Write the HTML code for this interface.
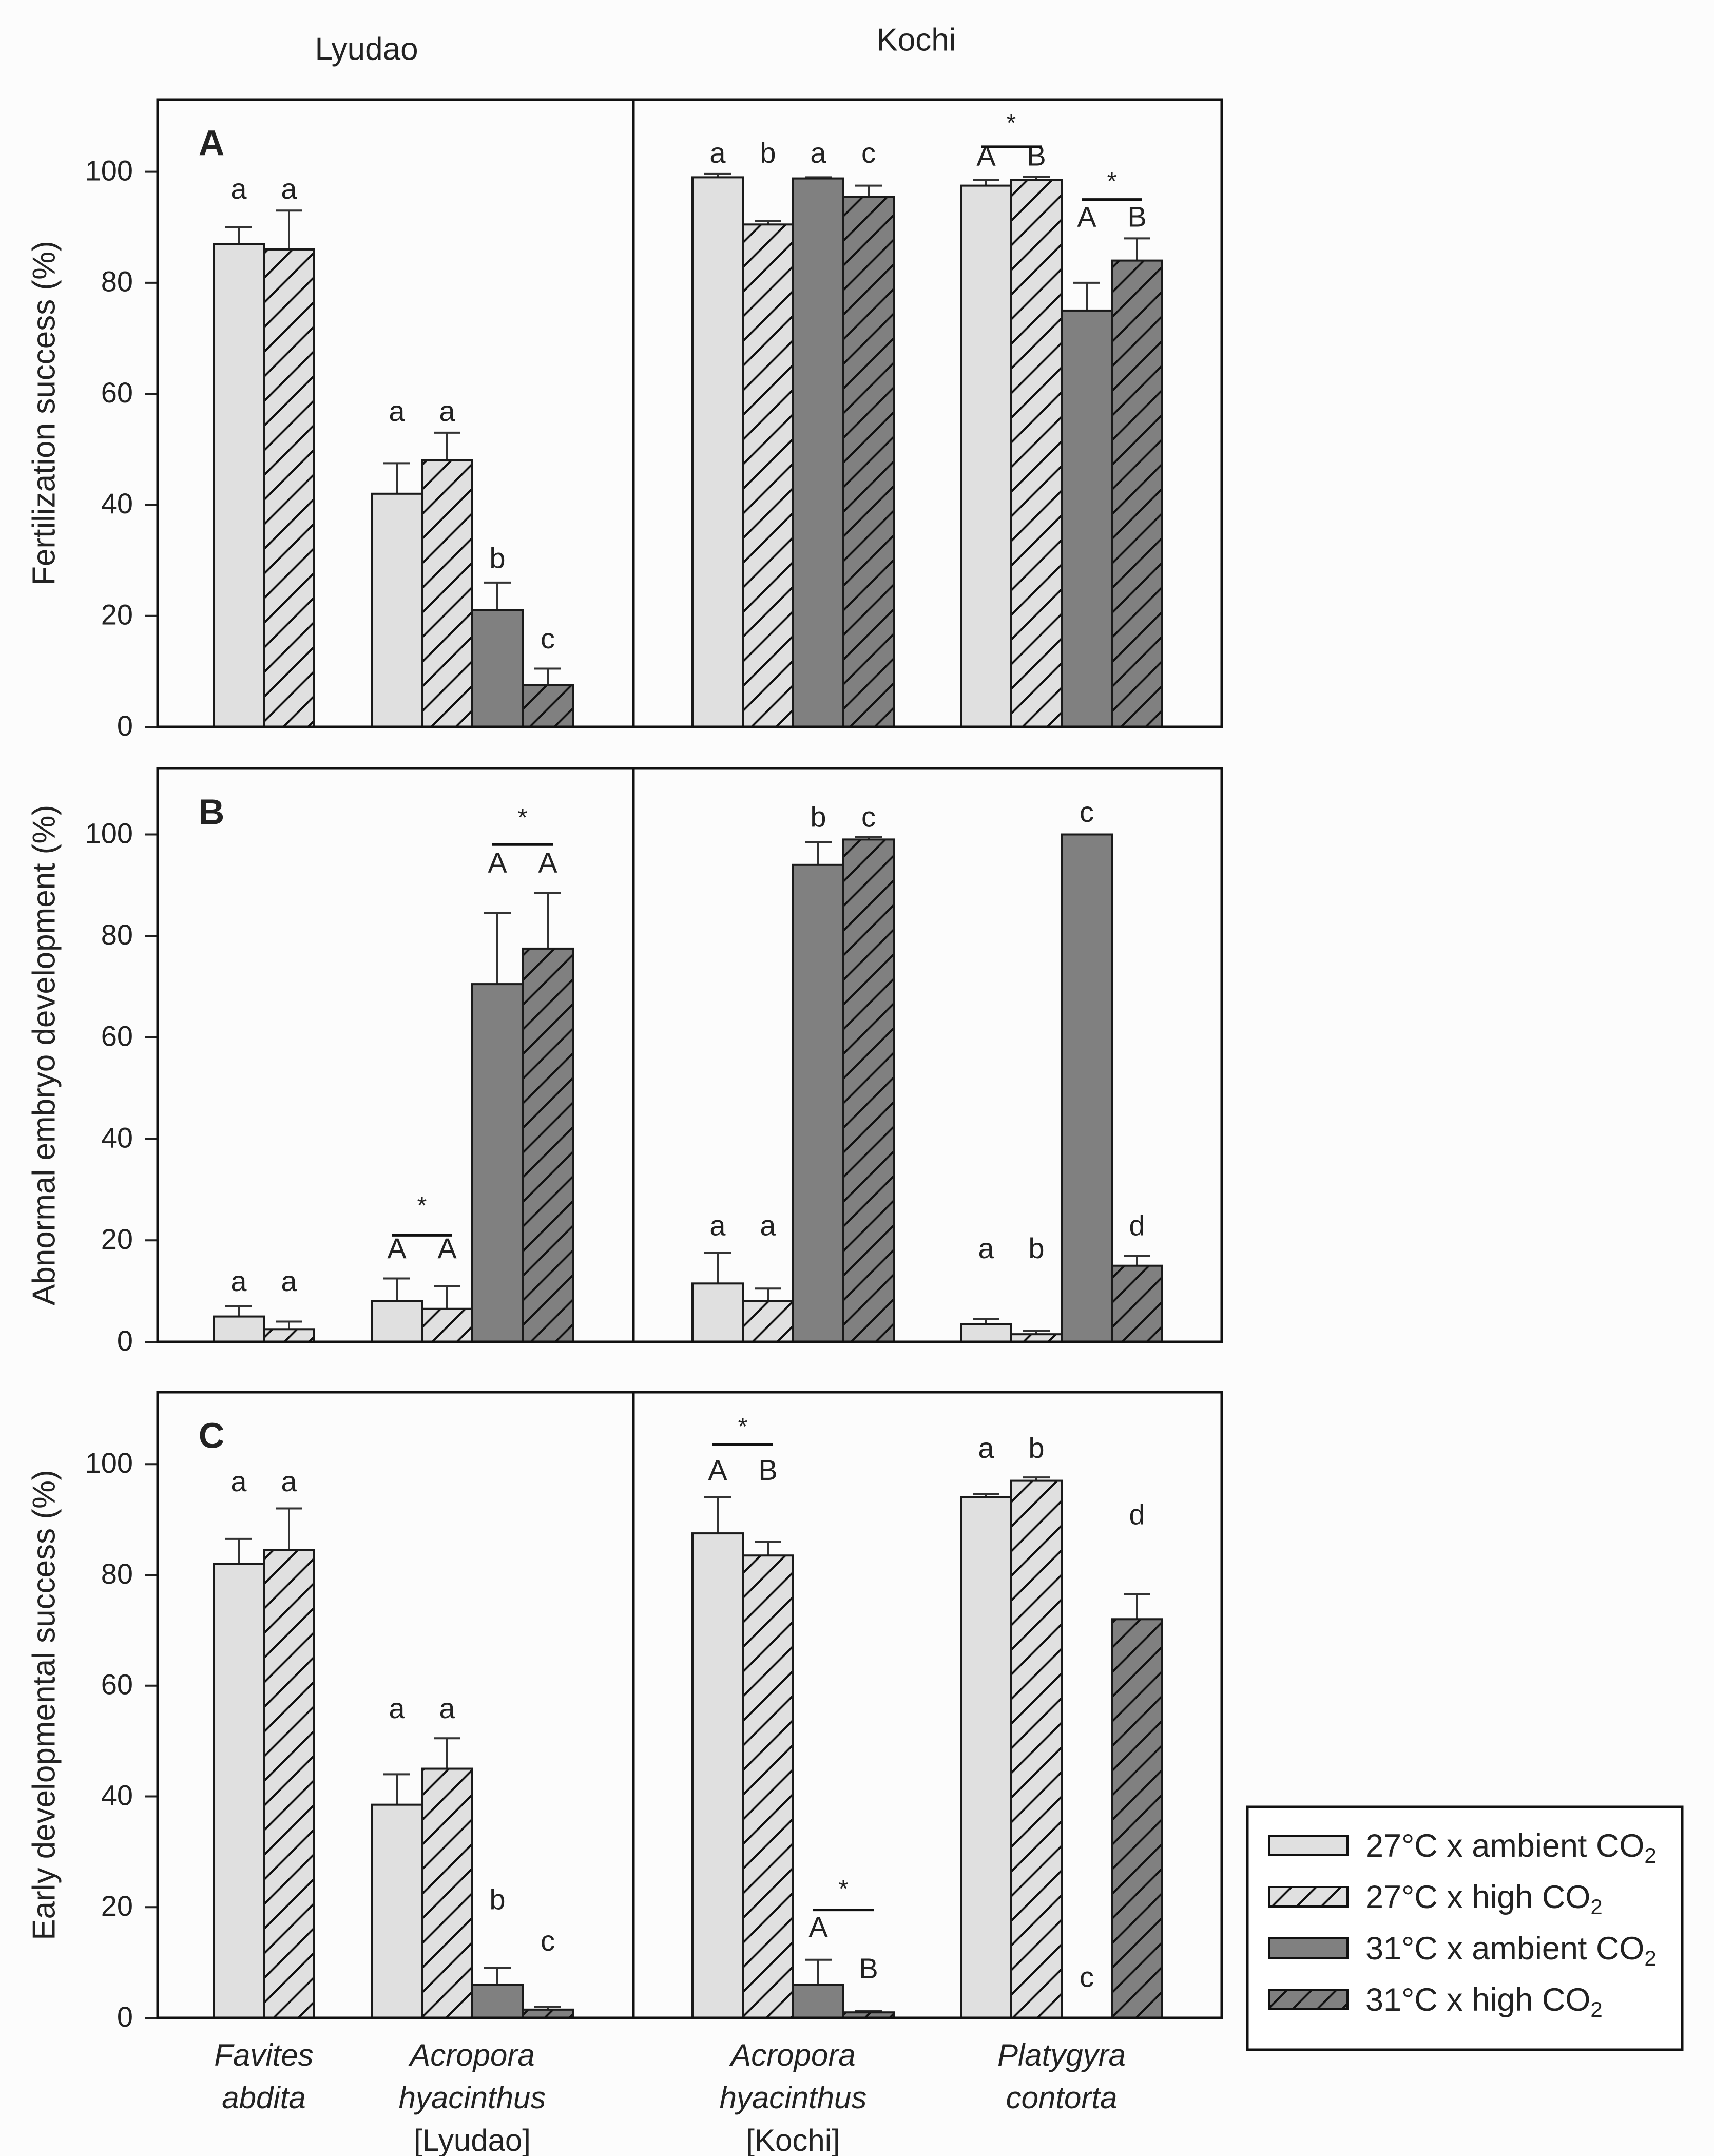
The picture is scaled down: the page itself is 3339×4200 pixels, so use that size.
<!DOCTYPE html>
<html><head><meta charset="utf-8"><style>
html,body{margin:0;padding:0;background:#fcfcfc;}
svg{display:block;}
text{font-family:"Liberation Sans",sans-serif;fill:#222;}
</style></head><body>
<svg id="chart" width="3339" height="4200" viewBox="0 0 3339 4200" xmlns="http://www.w3.org/2000/svg">
<defs>
<pattern id="hatchL" patternUnits="userSpaceOnUse" width="48" height="48">
<rect width="48" height="48" fill="#e0e0e0"/><path d="M-12,12 L12,-12 M0,48 L48,0 M36,60 L60,36" stroke="#111" stroke-width="4"/></pattern>
<pattern id="hatchD" patternUnits="userSpaceOnUse" width="48" height="48">
<rect width="48" height="48" fill="#808080"/><path d="M-12,12 L12,-12 M0,48 L48,0 M36,60 L60,36" stroke="#111" stroke-width="4"/></pattern>
</defs>
<g id="root"></g>
</svg>
<script>
const groups = ["Favites abdita","Acropora hyacinthus [Lyudao]","Acropora hyacinthus [Kochi]","Platygyra contorta"];
const seriesNames = ["27°C x ambient CO2","27°C x high CO2","31°C x ambient CO2","31°C x high CO2"];
const yTicks = [0,20,40,60,80,100];
// values [group][series]; null = no bar
const fertMean = [[87,86,null,null],[42,48,21,7.5],[99,90.5,98.8,95.5],[97.5,98.5,75,84]];
const fertErr  = [[3,7,null,null],[5.5,5,5,3],[0.6,0.6,0.2,2],[1,0.6,5,4]];
const abnMean  = [[5,2.5,null,null],[8,6.5,70.5,77.5],[11.5,8,94,99],[3.5,1.5,100,15]];
const abnErr   = [[2,1.5,null,null],[4.5,4.5,14,11],[6,2.5,4.5,0.5],[1,0.7,0,2]];
const earlyMean= [[82,84.5,null,null],[38.5,45,6,1.5],[87.5,83.5,6,1],[94,97,0,72]];
const earlyErr = [[4.5,7.5,null,null],[5.5,5.5,3,0.5],[6.5,2.5,4.5,0.3],[0.6,0.6,null,4.5]];

const NS="http://www.w3.org/2000/svg";
const root=document.getElementById('root');
function el(tag,attrs,parent){const e=document.createElementNS(NS,tag);for(const k in attrs)e.setAttribute(k,attrs[k]);(parent||root).appendChild(e);return e;}
function txt(x,y,s,size,attrs,parent){const t=el('text',Object.assign({x:x,y:y,'font-size':size,'text-anchor':'middle','dominant-baseline':'middle'},attrs||{}),parent);t.textContent=s;return t;}

const X0=307,X1=2380,XDIV=1234,BW=98;
const groupStart=[416,724,1349,1872];
const fills=["#e0e0e0","url(#hatchL)","#808080","url(#hatchD)"];
const panels=[
 {id:'A',top:194,bot:1416,mean:fertMean,err:fertErr,title:"Fertilization success (%)"},
 {id:'B',top:1497,bot:2614,mean:abnMean,err:abnErr,title:"Abnormal embryo development (%)"},
 {id:'C',top:2712,bot:3931,mean:earlyMean,err:earlyErr,title:"Early developmental success (%)"}
];
const YMAX=113;
const ann={
 A:[[0,0,'a',96.5],[0,1,'a',96.5],[1,0,'a',56.5],[1,1,'a',56.5],[1,2,'b',30],[1,3,'c',15.5],
    [2,0,'a',103],[2,1,'b',103],[2,2,'a',103],[2,3,'c',103],
    [3,0,'A',102.5],[3,1,'B',102.5],[3,0.5,'*',108.5],[3,2,'A',91.5],[3,3,'B',91.5],[3,2.5,'*',98]],
 B:[[0,0,'a',11.5],[0,1,'a',11.5],[1,0,'A',18],[1,1,'A',18],[1,0.5,'*',26.5],
    [1,2,'A',94],[1,3,'A',94],[1,2.5,'*',103],
    [2,0,'a',22.5],[2,1,'a',22.5],[2,2,'b',103],[2,3,'c',103],
    [3,0,'a',18],[3,1,'b',18],[3,2,'c',104],[3,3,'d',22.5]],
 C:[[0,0,'a',96.5],[0,1,'a',96.5],[1,0,'a',55.5],[1,1,'a',55.5],[1,2,'b',21],[1,3,'c',13.5],
    [2,0,'A',98.5],[2,1,'B',98.5],[2,0.5,'*',106.5],[2,2,'A',16],[2,3,'B',8.5],[2,2.5,'*',23],
    [3,0,'a',102.5],[3,1,'b',102.5],[3,2,'c',7],[3,3,'d',90.5]]
};
const brackets={A:[[3,0,1,104.5],[3,2,3,95]],B:[[1,0,1,21],[1,2,3,98]],C:[[2,0,1,103.5],[2,2,3,19.5]]};

panels.forEach(p=>{
  const g=el('g',{});
  
  
  const y=v=>p.bot-(v/YMAX)*(p.bot-p.top);
  const xc=(gi,si)=>groupStart[gi]+si*BW+BW/2;
  yTicks.forEach(t=>{
    const tk=el('line',{x1:X0-25,x2:X0,y1:y(t),y2:y(t),stroke:'#222','stroke-width':4},g);
    
    
    const lb=txt(X0-48,y(t)+2,String(t),56,{'text-anchor':'end'},g);
    
    
  });
  const yt=txt(0,0,p.title,62,{transform:`translate(90,${(p.top+p.bot)/2}) rotate(-90)`},g);
  
  
  p.mean.forEach((row,gi)=>row.forEach((v,si)=>{
    if(v===null)return;
    const e=p.err[gi][si];
    if(e!==null&&e>0){
      const cx=xc(gi,si);
      const eb=el('path',{d:`M${cx},${y(v)} V${y(v+e)} M${cx-26},${y(v+e)} H${cx+26}`,stroke:'#333','stroke-width':4,fill:'none'},g);
      
      
    }
    if(v>0){
      const r=el('rect',{x:groupStart[gi]+si*BW,y:y(v),width:BW,height:y(0)-y(v),fill:fills[si],stroke:'#1a1a1a','stroke-width':4},g);
      
      
    }
  }));
  ann[p.id].forEach(a=>{
    const t=txt(xc(a[0],a[1]),y(a[3]),a[2],a[2]==='*'?48:56,{},g);
    
    
  });
  brackets[p.id].forEach(b=>{
    const l=el('line',{x1:xc(b[0],b[1])-10,x2:xc(b[0],b[2])+10,y1:y(b[3]),y2:y(b[3]),stroke:'#111','stroke-width':5},g);
    
    
  });
  const fr=el('rect',{x:X0,y:p.top,width:X1-X0,height:p.bot-p.top,fill:'none',stroke:'#111','stroke-width':5},g);
  
  
  const dv=el('line',{x1:XDIV,x2:XDIV,y1:p.top,y2:p.bot,stroke:'#111','stroke-width':5},g);
  
  
  const pl=txt(412,p.top+90,p.id,70,{'font-weight':'bold'},g);
  
  
});

const s1=txt(714,100,'Lyudao',62);


const s2=txt(1785,82,'Kochi',62);



const xl=[["Favites","abdita"],["Acropora","hyacinthus","[Lyudao]"],["Acropora","hyacinthus","[Kochi]"],["Platygyra","contorta"]];
xl.forEach((lines,gi)=>{
  const cx=gi===0?groupStart[0]+BW:groupStart[gi]+2*BW;
  lines.forEach((s,i)=>{
    const t=txt(cx,4008+i*83,s,60,{'font-style':s.startsWith('[')?'normal':'italic'});
    
    
  });
});

const lg=el('g',{});


const lb=el('rect',{x:2430,y:3520,width:847,height:473,fill:'#fff',stroke:'#111','stroke-width':5},lg);


seriesNames.forEach((n,i)=>{
  const cy=3595+i*100;
  const sw=el('rect',{x:2472,y:cy-19,width:153,height:38,fill:fills[i],stroke:'#111','stroke-width':4},lg);
  
  
  const t=el('text',{x:2660,y:cy+22,'font-size':63},lg);
  
  
  t.textContent=n.replace('CO2','CO');
  const sub=el('tspan',{'font-size':42,dy:12},t);
  sub.textContent='2';
});
</script>
</body></html>
